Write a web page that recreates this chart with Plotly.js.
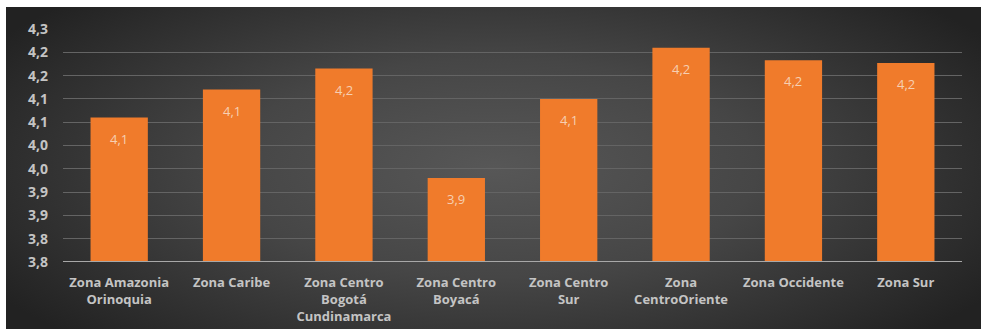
<!DOCTYPE html>
<html>
<head>
<meta charset="utf-8">
<script src="https://cdn.plot.ly/plotly-3.0.1.min.js"></script>
<style>
  html, body { margin: 0; padding: 0; background: #ffffff; }
  #wrap {
    position: absolute; left: 6px; top: 7px; width: 975px; height: 322px;
    background: radial-gradient(ellipse 60% 75% at 50% 50%, #575757 0%, #464646 45%, #2c2c2c 85%, #222222 100%);
  }
  #chart { width: 975px; height: 322px; }
</style>
</head>
<body>
<div id="wrap"><div id="chart"></div></div>
<script>
const categories = [
  "Zona Amazonia<br>Orinoquia",
  "Zona Caribe",
  "Zona Centro<br>Bogotá<br>Cundinamarca",
  "Zona Centro<br>Boyacá",
  "Zona Centro<br>Sur",
  "Zona<br>CentroOriente",
  "Zona Occidente",
  "Zona Sur"
];
const values = [4.11, 4.17, 4.215, 3.98, 4.15, 4.26, 4.233, 4.227];
const tickValues = [3.80, 3.85, 3.90, 3.95, 4.00, 4.05, 4.10, 4.15, 4.20, 4.25, 4.30];
const tickLabels = ["3,8", "3,8", "3,9", "3,9", "4,0", "4,0", "4,1", "4,1", "4,2", "4,2", "4,3"];

const fmt = v => (Math.floor(v * 10 + 1e-9) / 10).toFixed(1).replace(".", ",");
const barLabels = values.map(fmt);

const trace = {
  type: "bar",
  x: categories,
  y: values,
  marker: { color: "#f07b2b", line: { width: 0 } },
  hoverinfo: "none"
};

const annotations = categories.map((c, i) => ({
  x: c, y: values[i], xref: "x", yref: "y",
  text: barLabels[i], showarrow: false,
  yshift: -21,
  font: { family: "Open Sans, sans-serif", size: 13, color: "#f6cfb2" }
}));

const layout = {
  width: 975, height: 322,
  margin: { l: 57, r: 19, t: 22, b: 67 },
  paper_bgcolor: "rgba(0,0,0,0)",
  plot_bgcolor: "rgba(0,0,0,0)",
  bargap: 0.49,
  showlegend: false,
  font: { family: "Open Sans, sans-serif" },
  annotations: annotations,
  xaxis: {
    type: "category",
    tickfont: { family: "Open Sans, sans-serif", size: 13, color: "#c4c4c4", weight: "bold" },
    showgrid: false,
    showline: false,
    ticks: "",
    ticklabelstandoff: 11,
    fixedrange: true
  },
  yaxis: {
    range: [3.8, 4.3],
    tickvals: tickValues,
    ticktext: tickLabels,
    tickfont: { family: "Open Sans, sans-serif", size: 14, color: "#c4c4c4", weight: "bold" },
    showgrid: true,
    gridcolor: "#646464",
    gridwidth: 1,
    zeroline: false,
    showline: false,
    ticks: "",
    ticklabelstandoff: 14,
    fixedrange: true
  },
  shapes: [{
    type: "line", xref: "paper", yref: "y",
    x0: 0, x1: 1, y0: 3.8, y1: 3.8,
    line: { color: "#a8a8a8", width: 2 }
  }]
};

Plotly.newPlot("chart", [trace], layout, { displayModeBar: false, staticPlot: true });
</script>
</body>
</html>
